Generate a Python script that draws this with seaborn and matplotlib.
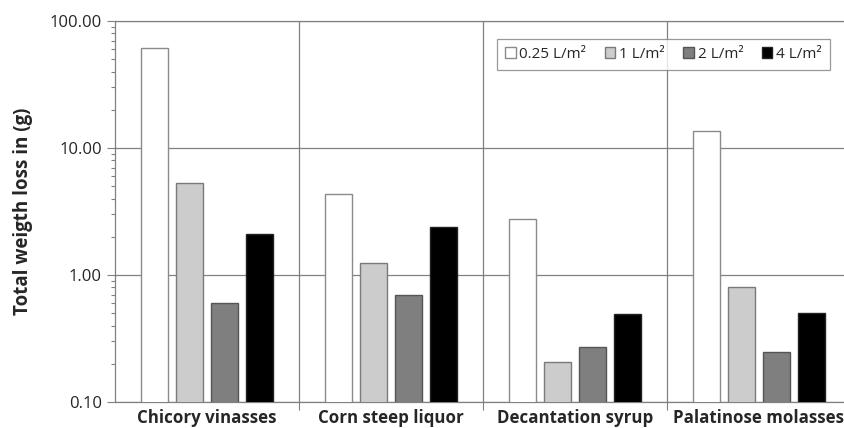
import pandas as pd
import matplotlib.pyplot as plt
import matplotlib.ticker as mticker
import seaborn as sns

categories = ["Chicory vinasses", "Corn steep liquor", "Decantation syrup", "Palatinose molasses"]
doses = ["0.25 L/m²", "1 L/m²", "2 L/m²", "4 L/m²"]
loss_025 = [61.3, 4.35, 2.76, 13.6]
loss_1 = [5.3, 1.24, 0.207, 0.81]
loss_2 = [0.605, 0.695, 0.271, 0.246]
loss_4 = [2.11, 2.37, 0.49, 0.50]

colors = ["#ffffff", "#cccccc", "#7f7f7f", "#000000"]
edges = ["#8a8a8a", "#7a7a7a", "#555555", "#222222"]

rows = []
for dose, vals in zip(doses, [loss_025, loss_1, loss_2, loss_4]):
    for cat, v in zip(categories, vals):
        rows.append({"category": cat, "dose": dose, "loss": v})
df = pd.DataFrame(rows)

sns.set_style("white")
plt.rcParams["font.family"] = ["Open Sans", "DejaVu Sans"]

fig = plt.figure(figsize=(8.45, 4.28), dpi=100)
ax = fig.add_axes([115 / 845, 26 / 428, 736 / 845, 381 / 428])

sns.barplot(data=df, x="category", y="loss", hue="dose", order=categories,
            hue_order=doses, palette=colors, width=0.76, gap=0.23, ax=ax)
ax.set_yscale("log")

for container, ec in zip(ax.containers, edges):
    for bar in container:
        bar.set_edgecolor(ec)
        bar.set_linewidth(1.0)
        bar.set_zorder(3)

ax.set_ylim(0.1, 100)
ax.set_xlim(-0.5, 3.5)
ax.yaxis.set_major_locator(mticker.LogLocator(base=10, numticks=10))
ax.yaxis.set_minor_locator(mticker.LogLocator(base=10, subs=range(2, 10), numticks=10))
ax.yaxis.set_major_formatter(mticker.FuncFormatter(lambda v, p: f"{v:.2f}"))
ax.yaxis.set_minor_formatter(mticker.NullFormatter())
ax.tick_params(axis="y", which="major", direction="out", length=6, width=0.8,
               color="#808080", labelsize=12, left=True)
ax.tick_params(axis="y", which="minor", direction="out", length=3, width=0.8,
               color="#808080", left=True)

ax.set_xticks([0.5, 1.5, 2.5], minor=True)
ax.tick_params(axis="x", which="minor", direction="out", length=6, width=0.8,
               color="#808080", bottom=True)
ax.tick_params(axis="x", which="major", length=0, labelsize=12.2, pad=5)
for lbl in ax.get_xticklabels():
    lbl.set_fontweight("bold")

ax.grid(False)
ax.grid(axis="y", which="major", color="#808080", linewidth=0.9)
ax.grid(axis="x", which="minor", color="#808080", linewidth=0.9)
ax.set_axisbelow(True)

for sp in ax.spines.values():
    sp.set_color("#808080")
    sp.set_linewidth(0.9)

ax.set_xlabel("")
ax.set_ylabel("Total weigth loss in (g)", fontsize=13.5, fontweight="bold", labelpad=12)

leg = ax.legend(loc="upper right", bbox_to_anchor=(0.982, 0.974), ncol=4,
                frameon=True, fancybox=False, fontsize=11, handlelength=0.7,
                handleheight=0.7, handletextpad=0.25, columnspacing=1.2,
                borderpad=0.55, title=None)
leg.get_frame().set_edgecolor("#808080")
leg.get_frame().set_linewidth(0.9)
for h, ec in zip(leg.legend_handles, edges):
    h.set_edgecolor(ec)

fig.savefig("out.png", dpi=100)
